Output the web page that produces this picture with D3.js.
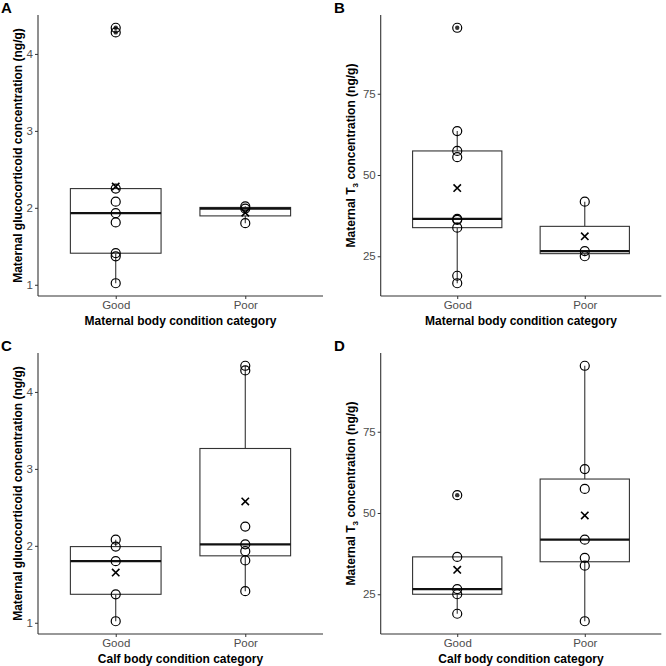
<!DOCTYPE html>
<html>
<head>
<meta charset="utf-8">
<script src="https://cdn.jsdelivr.net/npm/d3@7"></script>
<style>
  body { margin: 0; background: #fff; }
  svg { display: block; font-family: "Liberation Sans", Arial, sans-serif; }
</style>
</head>
<body>
<svg id="chart" width="666" height="666"></svg>
<script>
// categories
const groups = ["Good", "Poor"];

// maternal glucocorticoid (ng/g), grouped by maternal condition
const gcMaternalGood = [1.02, 1.37, 1.41, 1.81, 1.93, 2.08, 2.25, 4.28, 4.34];
const gcMaternalPoor = [1.80, 1.99, 2.02];
// maternal glucocorticoid (ng/g), grouped by calf condition
const gcCalfGood = [1.02, 1.37, 1.80, 1.99, 2.08];
const gcCalfPoor = [1.41, 1.81, 1.93, 2.02, 2.25, 4.28, 4.34];

// maternal T3 (ng/g), grouped by maternal condition
const t3MaternalGood = [16.7, 19.0, 33.8, 36.2, 36.5, 55.5, 57.4, 63.5, 95.3];
const t3MaternalPoor = [25.0, 26.6, 41.8];
// maternal T3 (ng/g), grouped by calf condition
const t3CalfGood = [19.0, 25.0, 26.6, 36.5, 55.5];
const t3CalfPoor = [16.7, 33.8, 36.2, 41.8, 57.4, 63.5, 95.3];

const gcTicks = [1, 2, 3, 4];
const t3Ticks = [25, 50, 75];

const panels = [
  {label: "A", data: [gcMaternalGood, gcMaternalPoor], ticks: gcTicks, y: "gc", x: "Maternal body condition category",
   ox: 0, box: {left: 38, right: 323, top: 15, bottom: 296}},
  {label: "B", data: [t3MaternalGood, t3MaternalPoor], ticks: t3Ticks, y: "t3", x: "Maternal body condition category",
   ox: 333, box: {left: 380.7, right: 661.3, top: 15, bottom: 296}},
  {label: "C", data: [gcCalfGood, gcCalfPoor], ticks: gcTicks, y: "gc", x: "Calf body condition category",
   ox: 0, box: {left: 38, right: 323, top: 353, bottom: 634}},
  {label: "D", data: [t3CalfGood, t3CalfPoor], ticks: t3Ticks, y: "t3", x: "Calf body condition category",
   ox: 333, box: {left: 380.7, right: 661.3, top: 353, bottom: 634}}
];

const svg = d3.select("#chart");
const ink = "#333333";

function boxStats(values) {
  const v = values.slice().sort(d3.ascending);
  const q1 = d3.quantile(v, 0.25), med = d3.quantile(v, 0.5), q3 = d3.quantile(v, 0.75);
  const iqr = q3 - q1;
  const lo = q1 - 1.5 * iqr, hi = q3 + 1.5 * iqr;
  const inside = v.filter(d => d >= lo && d <= hi);
  return {
    q1, med, q3,
    wlo: d3.min(inside), whi: d3.max(inside),
    outliers: v.filter(d => d < lo || d > hi),
    mean: d3.mean(v)
  };
}

function drawPanel(p) {
  const b = p.box;
  const g = svg.append("g");
  const all = p.data.flat();
  const [mn, mx] = d3.extent(all);
  const pad = (mx - mn) * 0.05;

  const y = d3.scaleLinear().domain([mn - pad, mx + pad]).range([b.bottom, b.top]);
  const x = d3.scalePoint().domain(groups).range([b.left, b.right]).padding(0.6);
  const bw = x.step() * 0.7;

  // axes
  const yAxis = g.append("g").attr("transform", `translate(${b.left},0)`)
    .call(d3.axisLeft(y).tickValues(p.ticks).tickFormat(d3.format("d")).tickSize(3).tickPadding(2));
  const xAxis = g.append("g").attr("transform", `translate(0,${b.bottom})`)
    .call(d3.axisBottom(x).tickSize(3).tickPadding(2));
  [yAxis, xAxis].forEach(a => {
    a.select(".domain").attr("stroke", ink).attr("stroke-width", 1.1);
    a.selectAll(".tick line").attr("stroke", ink).attr("stroke-width", 1);
    a.selectAll(".tick text").attr("fill", "#4d4d4d").attr("font-size", 11.5)
      .attr("font-family", "Liberation Sans, Arial, sans-serif");
  });
  xAxis.select(".domain").attr("d", `M${b.left},0H${b.right}`);
  yAxis.select(".domain").attr("d", `M0,${b.bottom}V${b.top}`);

  // boxes
  p.data.forEach((vals, i) => {
    const s = boxStats(vals);
    const cx = x(groups[i]);
    const bg = g.append("g");
    bg.append("line").attr("x1", cx).attr("x2", cx).attr("y1", y(s.q3)).attr("y2", y(s.whi))
      .attr("stroke", ink).attr("stroke-width", 1.1);
    bg.append("line").attr("x1", cx).attr("x2", cx).attr("y1", y(s.q1)).attr("y2", y(s.wlo))
      .attr("stroke", ink).attr("stroke-width", 1.1);
    bg.append("rect").attr("x", cx - bw / 2).attr("width", bw)
      .attr("y", y(s.q3)).attr("height", y(s.q1) - y(s.q3))
      .attr("fill", "#fff").attr("stroke", ink).attr("stroke-width", 1.1);
    bg.append("line").attr("x1", cx - bw / 2).attr("x2", cx + bw / 2)
      .attr("y1", y(s.med)).attr("y2", y(s.med))
      .attr("stroke", "#111").attr("stroke-width", 2.2);
    bg.selectAll("circle.out").data(s.outliers).join("circle").attr("class", "out")
      .attr("cx", cx).attr("cy", d => y(d)).attr("r", 2.2).attr("fill", ink);
    bg.selectAll("circle.pt").data(vals).join("circle").attr("class", "pt")
      .attr("cx", cx).attr("cy", d => y(d)).attr("r", 4.5)
      .attr("fill", "none").attr("stroke", "#000").attr("stroke-width", 1.2);
    const my = y(s.mean), k = 3.7;
    bg.append("path")
      .attr("d", `M${cx - k},${my - k}L${cx + k},${my + k}M${cx - k},${my + k}L${cx + k},${my - k}`)
      .attr("stroke", "#000").attr("stroke-width", 1.6);
  });

  // titles
  g.append("text").attr("x", (b.left + b.right) / 2).attr("y", b.bottom + 29)
    .attr("text-anchor", "middle").attr("font-weight", "bold").attr("font-size", 12)
    .text(p.x);

  const yt = g.append("text")
    .attr("transform", `translate(${p.ox + 22},${(b.top + b.bottom) / 2}) rotate(-90)`)
    .attr("text-anchor", "middle").attr("font-weight", "bold").attr("font-size", 12);
  if (p.y === "gc") {
    yt.text("Maternal glucocorticoid concentration (ng/g)");
  } else {
    yt.append("tspan").text("Maternal T");
    yt.append("tspan").attr("font-size", 8).attr("dy", 3).text("3");
    yt.append("tspan").attr("dy", -3).text(" concentration (ng/g)");
  }

  g.append("text").attr("x", p.ox + 1)
    .attr("y", b.top - 2).attr("font-weight", "bold").attr("font-size", 15)
    .text(p.label);
}

panels.forEach(drawPanel);
</script>
</body>
</html>
